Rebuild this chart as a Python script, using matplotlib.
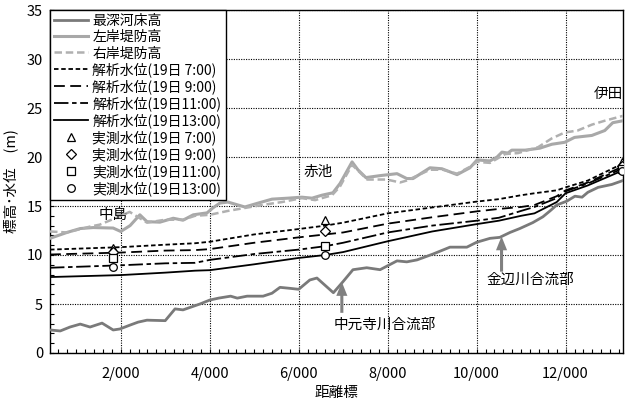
import matplotlib
matplotlib.use("Agg")
import matplotlib.pyplot as plt
from matplotlib.ticker import FixedLocator, MultipleLocator

plt.rcParams['font.family'] = ['Noto Sans CJK JP', 'DejaVu Sans']

# ---- data (distance km, elevation m) ----
bed_x = [0.41, 0.64, 0.86, 1.09, 1.31, 1.58, 1.83, 1.98, 2.21, 2.39, 2.59, 3.00, 3.22, 3.40,
         3.78, 4.00, 4.20, 4.47, 4.62, 4.84, 5.20, 5.40, 5.58, 5.80, 6.00, 6.25, 6.41, 6.78,
         7.00, 7.22, 7.53, 7.83, 8.21, 8.43, 8.66, 9.02, 9.40, 9.78, 10.00, 10.30, 10.52,
         10.75, 10.97, 11.26, 11.49, 11.65, 11.80, 12.03, 12.21, 12.37, 12.50, 12.73, 13.04, 13.29]
bed_y = [2.35, 2.25, 2.65, 2.95, 2.65, 3.05, 2.35, 2.45, 2.85, 3.15, 3.35, 3.3, 4.5, 4.4,
         5.0, 5.4, 5.6, 5.8, 5.6, 5.8, 5.8, 6.1, 6.7, 6.6, 6.5, 7.45, 7.65, 6.15,
         7.3, 8.5, 8.7, 8.5, 9.4, 9.3, 9.5, 10.1, 10.8, 10.8, 11.3, 11.7, 11.8,
         12.3, 12.7, 13.3, 13.9, 14.5, 15.1, 15.5, 16.0, 15.9, 16.4, 16.9, 17.2, 17.6]

left_x = [0.41, 0.79, 1.09, 1.38, 1.83, 2.00, 2.21, 2.43, 2.59, 2.88, 3.18, 3.40, 3.63, 3.94,
          4.07, 4.23, 4.41, 4.79, 5.09, 5.40, 5.76, 6.07, 6.30, 6.52, 6.77, 6.93, 7.20, 7.33,
          7.51, 7.83, 8.21, 8.43, 8.57, 8.95, 9.22, 9.56, 9.85, 10.01, 10.30, 10.46, 10.57,
          10.70, 10.79, 11.09, 11.42, 11.69, 11.98, 12.20, 12.59, 12.88, 13.06, 13.29]
left_y = [11.7, 12.3, 12.7, 12.8, 12.75, 12.4, 13.0, 14.1, 13.4, 13.35, 13.75, 13.55, 14.1, 14.3,
          14.8, 15.3, 15.4, 14.9, 15.3, 15.7, 15.8, 15.9, 15.8, 16.1, 16.35, 17.3, 19.5, 18.7,
          17.9, 18.1, 18.3, 17.8, 17.8, 18.9, 18.8, 18.2, 18.9, 19.7, 19.6, 20.0, 20.5,
          20.4, 20.7, 20.7, 20.9, 21.3, 21.5, 22.0, 22.2, 22.7, 23.5, 23.7]

right_x = [0.41, 0.79, 1.31, 1.53, 1.90, 2.20, 2.59, 3.00, 3.40, 3.67, 4.00, 4.41, 4.79, 5.17,
           5.62, 6.07, 6.37, 6.75, 6.93, 7.20, 7.38, 7.54, 7.98, 8.28, 8.43, 8.57, 8.95, 9.24,
           9.56, 9.85, 10.01, 10.30, 10.64, 10.93, 11.38, 11.69, 11.98, 12.27, 12.59, 12.88, 13.29]
right_y = [12.4, 12.3, 12.9, 13.1, 13.8, 14.4, 13.3, 13.6, 13.6, 14.0, 14.1, 14.5, 14.8, 15.1,
           15.4, 15.8, 15.6, 16.1, 17.0, 19.2, 18.4, 17.7, 17.7, 17.4, 17.6, 17.9, 18.7, 18.7,
           18.3, 19.0, 19.5, 19.4, 20.3, 20.4, 21.0, 21.9, 22.5, 22.7, 23.3, 23.7, 24.2]

wl_x = [0.41, 2.0, 3.0, 3.67, 4.0, 5.0, 6.0, 6.6, 7.0, 8.0, 9.0, 10.0, 10.5, 11.0, 11.3,
        11.8, 12.0, 12.5, 13.27]
wl_07 = [10.55, 10.8, 11.05, 11.2, 11.35, 12.1, 12.65, 13.0, 13.3, 14.25, 14.85, 15.45, 15.7,
         16.1, 16.3, 16.6, 16.9, 17.6, 19.3]
wl_09 = [10.05, 10.25, 10.45, 10.5, 10.6, 11.25, 11.8, 12.1, 12.3, 13.2, 13.85, 14.45, 14.7,
         14.9, 15.1, 16.0, 16.6, 17.4, 19.0]
wl_11 = [8.7, 8.95, 9.15, 9.2, 9.5, 10.1, 10.55, 10.9, 11.25, 12.3, 13.0, 13.5, 13.8,
         14.5, 14.9, 15.8, 16.5, 17.3, 18.8]
wl_13 = [7.75, 7.95, 8.2, 8.4, 8.45, 9.05, 9.7, 10.0, 10.3, 11.4, 12.4, 13.15, 13.5,
         14.0, 14.25, 15.4, 16.3, 17.1, 18.6]

obs_x = [1.82, 6.59, 13.27]
obs_07 = [10.7, 13.6, 19.5]
obs_09 = [10.3, 12.45, 19.1]
obs_11 = [9.7, 10.9, 18.8]
obs_13 = [8.8, 10.0, 18.6]

xticks = [2, 4, 6, 8, 10, 12]
xticklabels = ['2/000', '4/000', '6/000', '8/000', '10/000', '12/000']
yticks = [0, 5, 10, 15, 20, 25, 30, 35]

labels = ['最深河床高', '左岸堤防高', '右岸堤防高',
          '解析水位(19日 7:00)', '解析水位(19日 9:00)', '解析水位(19日11:00)', '解析水位(19日13:00)',
          '実測水位(19日 7:00)', '実測水位(19日 9:00)', '実測水位(19日11:00)', '実測水位(19日13:00)']

# ---- figure ----
fig = plt.figure(figsize=(6.3, 4.03), dpi=100)
ax = fig.add_axes([50/630, 50/403, 573/630, 343/403])

ax.plot(bed_x, bed_y, color='#7a7a7a', lw=2.0, label=labels[0], zorder=3)
ax.plot(left_x, left_y, color='#a8a8a8', lw=2.2, label=labels[1], zorder=3)
ax.plot(right_x, right_y, color='#b0b0b0', lw=1.8, ls=(0, (3, 1.5)), label=labels[2], zorder=3)

ax.plot(wl_x, wl_07, color='black', lw=1.3, ls=(0, (2.5, 1.5)), label=labels[3], zorder=4)
ax.plot(wl_x, wl_09, color='black', lw=1.3, ls=(0, (6, 3)), label=labels[4], zorder=4)
ax.plot(wl_x, wl_11, color='black', lw=1.3, ls=(0, (8, 2, 2.5, 2)), label=labels[5], zorder=4)
ax.plot(wl_x, wl_13, color='black', lw=1.3, label=labels[6], zorder=4)

mk = dict(ls='none', mfc='white', mec='black', mew=0.9, ms=6, zorder=5)
ax.plot(obs_x, obs_07, marker='^', label=labels[7], **mk)
ax.plot(obs_x, obs_09, marker='D', label=labels[8], **{**mk, 'ms': 5})
ax.plot(obs_x, obs_11, marker='s', label=labels[9], **{**mk, 'ms': 5.5})
ax.plot(obs_x, obs_13, marker='o', label=labels[10], **{**mk, 'ms': 5.5})

ax.set_xlim(0.41, 13.29)
ax.set_ylim(0, 35)
ax.xaxis.set_major_locator(FixedLocator(xticks))
ax.set_xticklabels(xticklabels)
ax.xaxis.set_minor_locator(MultipleLocator(0.2))
ax.yaxis.set_major_locator(FixedLocator(yticks))
ax.yaxis.set_minor_locator(MultipleLocator(1))
ax.tick_params(which='both', direction='in', length=3, width=0.8, labelsize=10.5, top=False, right=False)
ax.tick_params(axis='x', pad=10)
ax.tick_params(axis='y', pad=5)
ax.grid(True, which='major', color='black', ls=(0, (1, 1.2)), lw=0.8)
for s in ax.spines.values():
    s.set_linewidth(1.0)

ax.set_xlabel('距離標', fontsize=10.5, labelpad=4)
ax.set_ylabel('標高･水位　(m)', fontsize=10.5, labelpad=6)

leg = ax.legend(loc='upper left', fontsize=10, frameon=True, fancybox=False, edgecolor='black',
                framealpha=1, borderaxespad=0, handlelength=2.4, handletextpad=0.35,
                labelspacing=0.15, borderpad=0.3)
leg.get_frame().set_linewidth(1.0)
leg.set_zorder(10)

tk = dict(fontsize=10.5, ha='center', va='center', zorder=6)
ax.text(1.83, 14.1, '中島', **tk)
ax.text(6.44, 18.5, '赤池', **tk)
ax.text(12.95, 26.3, '伊田', **tk)
ax.text(7.94, 2.86, '中元寺川合流部', **tk)
ax.text(11.2, 7.45, '金辺川合流部', **tk)

ap = dict(facecolor='#808080', edgecolor='none', width=2.2, headwidth=8, headlength=10)
ax.annotate('', xy=(6.97, 7.25), xytext=(6.97, 4.1), arrowprops=ap, zorder=6)
ax.annotate('', xy=(10.56, 11.9), xytext=(10.56, 8.3), arrowprops=ap, zorder=6)

fig.savefig('out.png', dpi=100)
